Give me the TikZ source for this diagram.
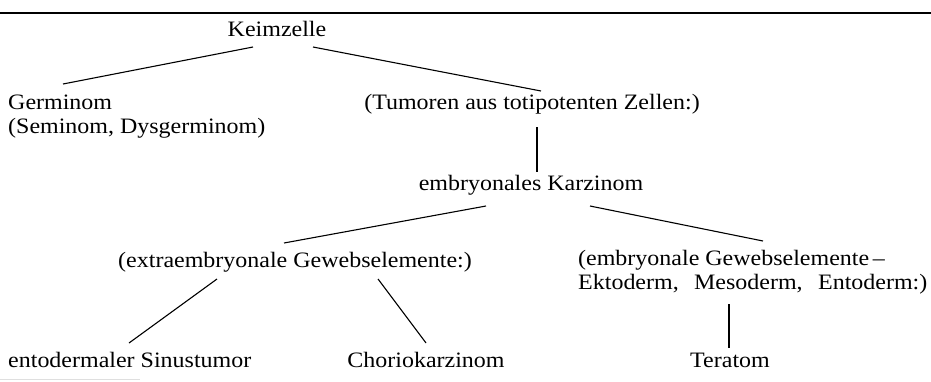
\documentclass[tikz,border=0pt]{standalone}
\usepackage{fontspec}
\setmainfont{Liberation Serif}[FakeStretch=1.09]
\usetikzlibrary{calc}
\tikzset{
    treelabel/.style={inner sep=0pt, font=\fontsize{22}{24}\selectfont},
    treelink/.style={line width=1.1pt, draw=black},
    pagerule/.style={line width=1.4pt, draw=black}
}

\begin{document}
\begin{tikzpicture}[x=1pt, y=-1pt]
    \useasboundingbox (0,0) rectangle (931,381);
    \draw[pagerule] (0,13) -- (931,13);

    \node[treelabel, anchor=base] (keim) at (277,36) {Keimzelle};
    \node[treelabel, anchor=base west, align=left] (germ) at (8,133) {Germinom\\(Seminom, Dysgerminom)};
    \node[treelabel, anchor=base] (toti) at (532,109) {(Tumoren aus totipotenten Zellen:)};
    \node[treelabel, anchor=base] (emb) at (531,190) {embryonales Karzinom};
    \node[treelabel, anchor=base] (extra) at (295,267) {(extraembryonale Gewebselemente:)};
    \node[treelabel, anchor=base west, align=left] (ekto) at (578,289) {(embryonale Gewebselemente\,--\\Ektoderm,\hspace{0.7em}Mesoderm,\hspace{0.7em}Entoderm:)};
    \node[treelabel, anchor=base west] (ento) at (8,367) {entodermaler Sinustumor};
    \node[treelabel, anchor=base] (chorio) at (426,367) {Choriokarzinom};
    \node[treelabel, anchor=base] (tera) at (730,367) {Teratom};

    % Keimzelle branches
    \draw[treelink] ($(keim.base)+(-24,11)$) -- ($(germ.base west)+(55,-49)$);
    \draw[treelink] ($(keim.base)+(36,11)$) -- ($(toti.base)+(9,-18)$);
    \draw[treelink] ($(toti.base)+(5,18)$) -- ($(emb.base)+(6,-18)$);

    % Karzinom branches
    \draw[treelink] ($(emb.base)+(-45,16)$) -- ($(extra.base)+(-11,-24)$);
    \draw[treelink] ($(emb.base)+(59,16)$) -- ($(ekto.base west)+(185,-48)$);

    % Gewebselemente branches
    \draw[treelink] ($(extra.base)+(-78,12)$) -- ($(ento.base west)+(121,-24)$);
    \draw[treelink] ($(extra.base)+(83,12)$) -- ($(chorio.base)+(0,-24)$);
    \draw[treelink] ($(ekto.base west)+(151,15)$) -- ($(tera.base)+(-1,-19)$);

    \draw[gray!25, line width=0.8pt] (0,379) -- (140,379);
\end{tikzpicture}
\end{document}
